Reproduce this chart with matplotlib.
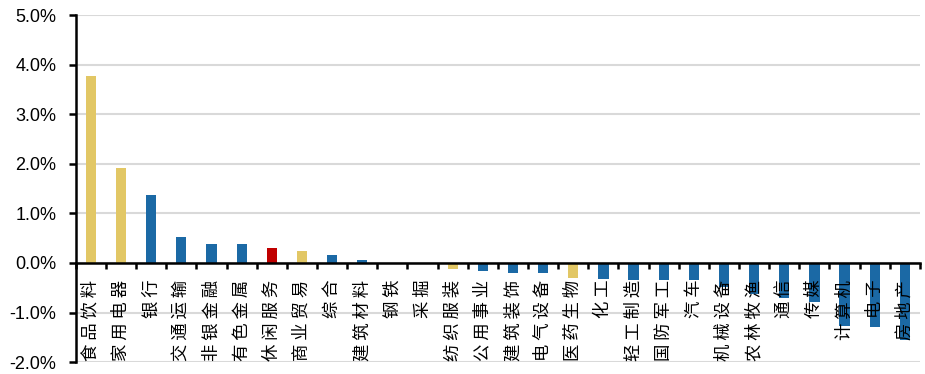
import numpy as np
import matplotlib.pyplot as plt
from matplotlib.ticker import FuncFormatter, FixedLocator

plt.rcParams['font.family'] = ['Liberation Sans', 'DejaVu Sans']

# 行业周涨跌幅
hangye = ['食品饮料', '家用电器', '银行', '交通运输', '非银金融', '有色金属', '休闲服务',
          '商业贸易', '综合', '建筑材料', '钢铁', '采掘', '纺织服装', '公用事业',
          '建筑装饰', '电气设备', '医药生物', '化工', '轻工制造', '国防军工', '汽车',
          '机械设备', '农林牧渔', '通信', '传媒', '计算机', '电子', '房地产']
zhangfu = [3.78, 1.92, 1.37, 0.52, 0.39, 0.38, 0.30,
           0.24, 0.17, 0.05, 0.0, -0.03, -0.13, -0.17,
           -0.21, -0.21, -0.30, -0.33, -0.34, -0.35, -0.35,
           -0.49, -0.62, -0.71, -0.79, -1.28, -1.30, -1.55]
# 颜色分组: 0 普通, 1 消费, 2 重点
zu = [1, 1, 0, 0, 0, 0, 2,
      1, 0, 0, 0, 0, 1, 0,
      0, 0, 1, 0, 0, 0, 0,
      0, 0, 0, 0, 0, 0, 0]
yanse = {0: '#1B69A5', 1: '#E2C765', 2: '#C00000'}

fig = plt.figure(figsize=(9.25, 3.74), dpi=100)
ax = fig.add_axes([0.082, 0.032, 0.9125, 0.927])

x = np.arange(len(hangye))
ax.bar(x, zhangfu, width=0.34, color=[yanse[g] for g in zu], zorder=1)

ax.set_xlim(-0.5, len(hangye) - 0.5)
ax.set_ylim(-2, 5)
ax.set_yticks(np.arange(-2, 5.01, 1))
ax.yaxis.set_major_formatter(FuncFormatter(lambda v, p: '%.1f%%' % v))
ax.tick_params(axis='y', labelsize=13, length=5, width=1.8, direction='out', pad=9)
# 网格线画在柱子下面, 坐标轴文字在柱子上面
for v in np.arange(-2, 5.01, 1):
    ax.axhline(v, color='#D9D9D9', lw=1.5, zorder=0)
ax.set_axisbelow(False)

# x轴放在0位置
ax.spines['bottom'].set_position(('data', 0))
ax.spines['bottom'].set_linewidth(1.8)
ax.spines['left'].set_linewidth(1.8)
ax.spines['top'].set_visible(False)
ax.spines['right'].set_visible(False)

ax.xaxis.set_major_locator(FixedLocator(np.arange(-0.5, len(hangye), 1)))
ax.xaxis.set_major_formatter(FuncFormatter(lambda v, p: ''))
ax.xaxis.set_minor_locator(FixedLocator(x))
ax.set_xticklabels([' '.join(s) for s in hangye], minor=True)
ax.tick_params(axis='x', which='major', length=4.5, width=1.8, direction='out')
ax.tick_params(axis='x', which='minor', length=0, pad=12)
for t in ax.get_xticklabels(minor=True):
    t.set_rotation(90)
    t.set_fontfamily(['Noto Sans CJK SC', 'DejaVu Sans'])
    t.set_fontsize(12.5)

fig.savefig('out.png', dpi=100)
